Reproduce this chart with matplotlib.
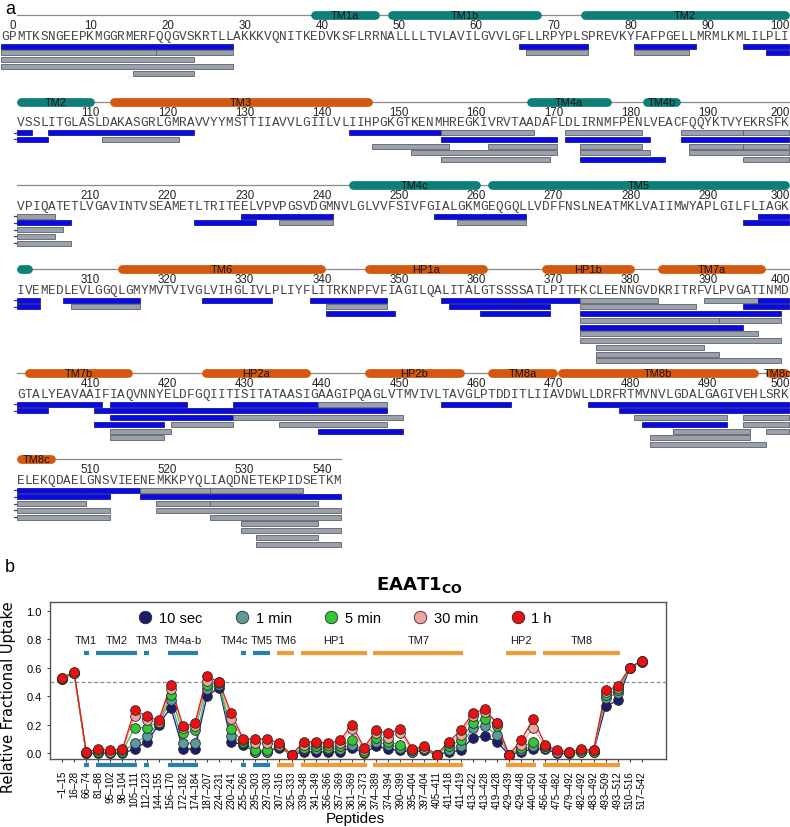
import matplotlib
matplotlib.use("Agg")
import matplotlib.pyplot as plt
from matplotlib.lines import Line2D

plt.rcParams['font.family'] = ['Liberation Sans', 'DejaVu Sans']

# ---------------- data ----------------
# protein sequence, first residue is -1 (G), then P0, M1 ...
seq = ("GP"
       "MTKSNGEEPKMGGRMERFQQGVSKRTLLAKKKVQNITKEDVKSFLRRNALLLLTVLAVILGVVLGFLLRPYPLSPREVKYFAFPGELLMRMLKMLILPLI"
       "VSSLITGLASLDAKASGRLGMRAVVYYMSTTIIAVVLGIILVLIIHPGKGTKENMHREGKIVRVTAADAFLDLIRNMFPENLVEACFQQYKTVYEKRSFK"
       "VPIQATETLVGAVINTVSEAMETLTRITEELVPVPGSVDGMNVLGLVVFSIVFGIALGKMGEQGQLLVDFFNSLNEATMKLVAIIMWYAPLGILFLIAGK"
       "IVEMEDLEVLGGQLGMYMVTVIVGLVIHGLIVLPLIYFLITRKNPFVFIAGILQALITALGTSSSSATLPITFKCLEENNGVDKRITRFVLPVGATINMD"
       "GTALYEAVAAIFIAQVNNYELDFGQIITISITATAASIGAAGIPQAGLVTMVIVLTAVGLPTDDITLIIAVDWLLDRFRTMVNVLGDALGAGIVEHLSRK"
       "ELEKQDAELGNSVIEENEMKKPYQLIAQDNETEKPIDSETKM")
first_res = -1

# secondary structure elements (panel a)
ss_name = ['TM1a', 'TM1b', 'TM2', 'TM3', 'TM4a', 'TM4b', 'TM4c', 'TM5', 'TM6', 'HP1a',
           'HP1b', 'TM7a', 'TM7b', 'HP2a', 'HP2b', 'TM8a', 'TM8b', 'TM8c']
ss_start = [39, 49, 74, 113, 167, 182, 244, 262, 314, 346, 369, 384, 402, 425, 446, 462, 471, 498]
ss_end = [47, 68, 110, 146, 177, 186, 260, 302, 340, 361, 380, 397, 415, 438, 458, 470, 496, 505]
ss_kind = ['t', 't', 't', 'o', 't', 't', 't', 't', 'o', 'o', 'o', 'o', 'o', 'o', 'o', 'o', 'o', 'o']

# peptide coverage map (panel a): start, end, kind (b = shown in panel b, g = other), lane
pep_start = [-1, 16, 66, 81, 95, -1, 19, 67, 81, 98, -1, -1, 16,
             105, 112, 144, 156, 172, 187, 195, 112, 156, 172, 187, 147, 162, 174, 188, 195,
             152, 174, 188, 156, 174, 195,
             230, 255, 297, 224, 235, 258, 295,
             307, 325, 339, 356, 367, 374, 390, 397, 308, 341, 357, 374, 395,
             341, 361, 374, 390, 374, 392, 374, 374, 374, 376, 376, 376,
             405, 413, 429, 440, 456, 475, 483, 493, 411, 419, 429, 479, 493,
             413, 429, 481, 495, 411, 421, 435, 482, 495, 413, 440, 486, 498, 413, 483, 483,
             510, 517, 526, 517, 519, 526, 519, 526, 530, 530, 532, 532]
pep_end = [15, 28, 74, 88, 102, 18, 28, 74, 87, 104, 23, 28, 23,
           111, 123, 155, 167, 181, 194, 205, 121, 170, 182, 207, 156, 170, 181, 194, 206,
           170, 182, 205, 169, 184, 207,
           241, 266, 303, 231, 241, 266, 303,
           316, 333, 348, 366, 373, 383, 396, 404, 316, 348, 369, 388, 404,
           349, 369, 389, 399, 391, 399, 394, 396, 399, 389, 391, 399,
           411, 422, 439, 448, 464, 482, 492, 509, 418, 428, 448, 492, 512,
           428, 450, 492, 509, 419, 428, 448, 492, 512, 420, 450, 495, 512, 419, 495, 497,
           516, 525, 537, 542, 525, 539, 542, 542, 539, 542, 539, 542]
pep_kind = ['b', 'b', 'b', 'b', 'b', 'g', 'g', 'g', 'g', 'b', 'g', 'g', 'g',
            'b', 'b', 'b', 'g', 'g', 'g', 'g', 'g', 'b', 'b', 'b', 'g', 'g', 'g', 'g', 'g',
            'g', 'g', 'g', 'g', 'b', 'g',
            'b', 'b', 'b', 'b', 'g', 'g', 'b',
            'b', 'b', 'b', 'b', 'b', 'g', 'g', 'b', 'g', 'g', 'b', 'g', 'b',
            'b', 'b', 'b', 'b', 'g', 'g', 'b', 'g', 'g', 'g', 'g', 'g',
            'b', 'b', 'b', 'g', 'b', 'b', 'b', 'b', 'b', 'b', 'b', 'b', 'b',
            'b', 'g', 'g', 'g', 'b', 'g', 'g', 'b', 'g', 'g', 'b', 'g', 'g', 'g', 'g', 'g',
            'b', 'g', 'g', 'b', 'g', 'g', 'g', 'g', 'g', 'g', 'g', 'g']
pep_lane = [0, 0, 0, 0, 0, 1, 1, 1, 1, 1, 2, 3, 4,
            0, 0, 0, 0, 0, 0, 0, 1, 1, 1, 1, 2, 2, 2, 2, 2,
            3, 3, 3, 4, 4, 4,
            0, 0, 0, 1, 1, 1, 1,
            0, 0, 0, 0, 0, 0, 0, 0, 1, 1, 1, 1, 1,
            2, 2, 2, 2, 3, 3, 4, 5, 6, 7, 8, 9,
            0, 0, 0, 0, 0, 0, 0, 0, 1, 1, 1, 1, 1,
            2, 2, 2, 2, 3, 3, 3, 3, 3, 4, 4, 4, 4, 5, 5, 6,
            0, 0, 0, 1, 2, 2, 3, 4, 5, 6, 7, 8]

# panel b peptides and uptake
b_start = [-1, 16, 66, 81, 95, 98, 105, 112, 144, 156, 172, 174, 187, 224, 230, 255, 295, 297,
           307, 325, 339, 341, 356, 357, 361, 367, 374, 374, 390, 395, 397, 405, 411, 411,
           413, 413, 419, 429, 429, 440, 456, 475, 479, 482, 483, 493, 493, 510, 517]
b_end = [15, 28, 74, 88, 102, 104, 111, 123, 155, 170, 182, 184, 207, 231, 241, 266, 303, 303,
         316, 333, 348, 349, 366, 369, 369, 373, 389, 394, 399, 404, 404, 411, 418, 419,
         422, 428, 428, 439, 448, 450, 464, 482, 492, 492, 492, 509, 512, 516, 542]
times = ['10 sec', '1 min', '5 min', '30 min', '1 h']
u10s = [0.52, 0.56, 0.00, 0.00, 0.00, 0.00, 0.03, 0.08, 0.20, 0.32, 0.03, 0.03, 0.40, 0.46, 0.08,
        0.06, 0.01, 0.01, 0.04, -0.01, 0.01, 0.01, 0.01, 0.01, 0.04, 0.00, 0.05, 0.03, 0.02, 0.01,
        0.02, -0.01, 0.01, 0.02, 0.11, 0.12, 0.08, -0.01, 0.01, 0.03, 0.03, 0.00, 0.00, 0.01, 0.01,
        0.33, 0.37, 0.60, 0.64]
u1m = [0.52, 0.56, 0.00, 0.01, 0.00, 0.01, 0.07, 0.12, 0.21, 0.37, 0.07, 0.07, 0.45, 0.48, 0.12,
       0.07, 0.01, 0.01, 0.05, -0.01, 0.03, 0.03, 0.03, 0.03, 0.06, 0.01, 0.08, 0.06, 0.04, 0.01,
       0.02, -0.01, 0.02, 0.05, 0.18, 0.19, 0.13, -0.01, 0.02, 0.05, 0.04, 0.01, 0.00, 0.01, 0.01,
       0.39, 0.42, 0.60, 0.64]
u5m = [0.52, 0.56, 0.00, 0.01, 0.01, 0.01, 0.18, 0.18, 0.22, 0.41, 0.14, 0.16, 0.48, 0.49, 0.17,
       0.08, 0.02, 0.02, 0.05, -0.01, 0.04, 0.05, 0.04, 0.05, 0.09, 0.01, 0.11, 0.08, 0.06, 0.02,
       0.03, -0.01, 0.05, 0.09, 0.21, 0.24, 0.19, -0.01, 0.04, 0.08, 0.05, 0.01, 0.00, 0.01, 0.01,
       0.41, 0.44, 0.60, 0.65]
u30m = [0.53, 0.56, 0.01, 0.02, 0.01, 0.02, 0.26, 0.23, 0.22, 0.45, 0.18, 0.19, 0.51, 0.50, 0.24,
        0.09, 0.07, 0.07, 0.06, -0.01, 0.06, 0.07, 0.06, 0.07, 0.17, 0.02, 0.14, 0.11, 0.14, 0.02,
        0.04, -0.01, 0.07, 0.13, 0.26, 0.29, 0.21, -0.01, 0.06, 0.18, 0.05, 0.01, 0.01, 0.02, 0.02,
        0.43, 0.46, 0.60, 0.65]
u1h = [0.53, 0.57, 0.01, 0.03, 0.02, 0.03, 0.30, 0.26, 0.23, 0.48, 0.19, 0.21, 0.54, 0.50, 0.28,
       0.10, 0.10, 0.10, 0.07, -0.01, 0.08, 0.08, 0.07, 0.09, 0.20, 0.04, 0.16, 0.14, 0.17, 0.03,
       0.05, -0.01, 0.08, 0.16, 0.28, 0.31, 0.21, -0.01, 0.09, 0.24, 0.06, 0.02, 0.01, 0.03, 0.02,
       0.44, 0.47, 0.60, 0.65]

# structural regions in panel b (peptide index ranges)
tm_name = ['TM1', 'TM2', 'TM3', 'TM4a-b', 'TM4c', 'TM5', 'TM6', 'HP1', 'TM7', 'HP2', 'TM8']
tm_first = [2, 3, 7, 9, 15, 16, 18, 20, 26, 37, 40]
tm_last = [2, 6, 7, 11, 15, 17, 19, 25, 33, 39, 46]
tm_kind = ['t', 't', 't', 't', 't', 't', 'o', 'o', 'o', 'o', 'o']

# ---------------- styles ----------------
W, H = 790, 828
fig = plt.figure(figsize=(W / 100, H / 100), dpi=100)

row_y = [16, 102.5, 186, 270, 374, 460]
lane0, lane_step, bar_h = 31, 6.75, 5.0
px_per_res, x0_px = 7.72, 13.0
ss_col = {'t': '#0d7f78', 'o': '#d4580e'}
pep_col = {'b': ('#0a0ae6', '#1a1a8a'), 'g': ('#9aa1ad', '#5b6068')}


def row_of(r):
    return max(0, (r - 1) // 100)


def segments(s, e):
    rs, re_ = row_of(s), row_of(e)
    for k in range(rs, re_ + 1):
        lo = s if k == rs else 100 * k + 1
        hi = e if k == re_ else 100 * k + 100
        yield k, lo - 100 * k, hi - 100 * k, k > rs, k < re_


# ---------------- panel a ----------------
top_h = 560
ax = fig.add_axes([0, 1 - top_h / H, 1, top_h / H])
ax.set_xlim(-x0_px / px_per_res, (W - x0_px) / px_per_res)
ax.set_ylim(top_h, 0)
ax.axis('off')

last_res = first_res + len(seq) - 1
for k, y in enumerate(row_y):
    lo = (first_res if k == 0 else 100 * k + 1) - 100 * k
    hi = min(last_res, 100 * k + 100) - 100 * k
    ax.plot([0.5, hi + 0.5], [y, y], color='#8a8a8a', lw=0.9, zorder=1)
    # residue numbers
    for n in range(100 * k + (0 if k == 0 else 10), min(last_res, 100 * k + 100) + 1, 10):
        c = n - 100 * k
        if c == 100:
            ax.text(100.65, y + 10.5, str(n), ha='right', va='center', fontsize=8.3,
                    color='#222222')
        else:
            ax.text(c, y + 10.5, str(n), ha='center', va='center', fontsize=8.3,
                    color='#222222')
    # sequence letters
    for c in range(lo, hi + 1):
        ax.text(c, y + 21, seq[c + 100 * k - first_res], ha='center', va='center',
                fontsize=9.2, family='Liberation Mono', color='#444444')

cap_r = 8.7 / 2 / px_per_res
for name, s, e, kd in zip(ss_name, ss_start, ss_end, ss_kind):
    for k, cs, ce, _, _ in segments(s, e):
        y = row_y[k]
        ax.plot([cs - 0.5 + cap_r, ce + 0.5 - cap_r], [y, y], color=ss_col[kd], lw=6.3,
                solid_capstyle='round', zorder=2)
        if ce - cs >= 2:
            ax.text((cs + ce) / 2, y + 0.3, name, ha='center', va='center', fontsize=8,
                    color='#151515', zorder=3)

for s, e, kd, ln in zip(pep_start, pep_end, pep_kind, pep_lane):
    fc, ec = pep_col[kd]
    for k, cs, ce, cl, cr in segments(s, e):
        y = row_y[k] + lane0 + ln * lane_step
        ax.barh(y, ce - cs + 1, left=cs - 0.5, height=bar_h, color=fc, edgecolor=ec,
                lw=0.6, zorder=3)
        if cr:
            ax.plot([100.5, 100.95], [y, y], color='#444444', lw=0.9)
        if cl:
            ax.plot([0.1, 0.5], [y, y], color='#444444', lw=0.9)

fig.text(5 / W, 1 - 9 / H, 'a', fontsize=13, ha='left', va='center')

# ---------------- panel b ----------------
b_left, b_right, b_top, b_bot = 50, 666, 603, 760
axb = fig.add_axes([b_left / W, 1 - b_bot / H, (b_right - b_left) / W, (b_bot - b_top) / H])
xs = list(range(len(b_start)))
labels = [('\u2212' + str(-s) if s < 0 else str(s)) + '\u2013' + str(e)
          for s, e in zip(b_start, b_end)]

axb.axhline(0.5, color='#8c8c8c', ls=(0, (3, 2)), lw=0.9, zorder=1)
series = [u10s, u1m, u5m, u30m, u1h]
colors = ['#1c1c6b', '#5c9a9c', '#34c634', '#f2a3a0', '#ee1010']
for lab, vals, c in zip(times, series, colors):
    axb.plot(xs, vals, '-', color=c, lw=0.9, zorder=2)
    axb.plot(xs, vals, 'o', ms=7, mfc=c, mec='#2a2a2a', mew=0.6, zorder=3)

tm_c = {'t': '#2680a8', 'o': '#f29b34'}
label_dx = {'TM4c': -0.7}
for name, a, b, kd in zip(tm_name, tm_first, tm_last, tm_kind):
    axb.plot([a - 0.22, b + 0.22], [0.70, 0.70], color=tm_c[kd], lw=3.0,
             solid_capstyle='butt', zorder=2)
    axb.plot([a - 0.22, b + 0.22], [-0.085, -0.085], color=tm_c[kd], lw=3.0,
             solid_capstyle='butt', clip_on=False, zorder=2)
    axb.text((a + b) / 2 + label_dx.get(name, 0), 0.795, name, ha='center', va='center',
             fontsize=8, color='#1a1a1a')

handles = [Line2D([], [], ls='none', marker='o', ms=9, mfc=c, mec='#2a2a2a', mew=0.6)
           for c in colors]
axb.legend(handles, times, ncol=5, loc='upper center', bbox_to_anchor=(0.475, 1.025),
           frameon=False, fontsize=10.5, handletextpad=0.15, columnspacing=1.9,
           handlelength=1.6)

axb.set_xlim(-1, 50)
axb.set_ylim(-0.04, 1.06)
axb.set_yticks([0, 0.2, 0.4, 0.6, 0.8, 1.0])
axb.set_yticklabels(['0.0', '0.2', '0.4', '0.6', '0.8', '1.0'])
axb.set_xticks(xs)
axb.set_xticklabels(labels, rotation=90, fontsize=7)
axb.tick_params(axis='x', length=2.5, pad=5.4, color='#444444')
axb.tick_params(axis='y', length=2.5, labelsize=8, color='#444444')
for sp in axb.spines.values():
    sp.set_color('#555555')
    sp.set_linewidth(1.0)
axb.set_ylabel('Relative Fractional Uptake', fontsize=10.5, family='DejaVu Sans')
axb.yaxis.set_label_coords((16 - b_left) / (b_right - b_left), (b_bot - 697) / (b_bot - b_top))
fig.text(355 / W, 1 - 819 / H, 'Peptides', fontsize=11, ha='center', va='center')
fig.text(376 / W, 1 - 585 / H, r'$\mathbf{EAAT1_{CO}}$', fontsize=13, ha='left', va='center')
fig.text(5 / W, 1 - 567 / H, 'b', fontsize=13, ha='left', va='center')

fig.savefig('out.png', dpi=100)
